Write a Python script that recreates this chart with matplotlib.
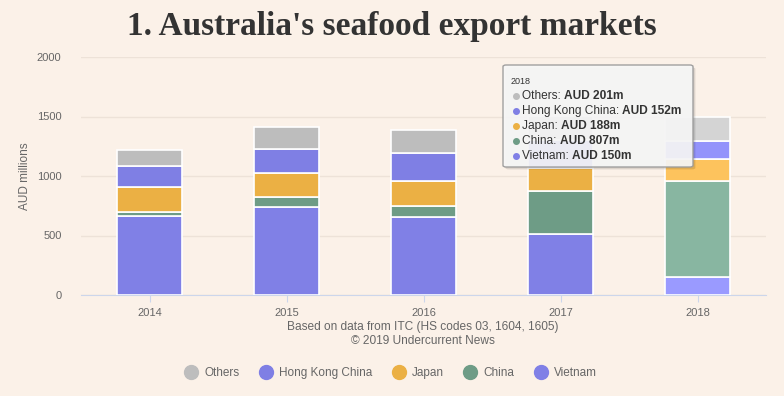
import matplotlib
matplotlib.use("Agg")
import matplotlib.pyplot as plt
import numpy as np
from matplotlib.lines import Line2D
from matplotlib.patches import FancyBboxPatch

# data (AUD millions)
years = ["2014", "2015", "2016", "2017", "2018"]
series = ["Others", "Hong Kong China", "Japan", "China", "Vietnam"]
vietnam = [666, 737, 658, 510, 150]
china = [34, 89, 92, 361, 807]
japan = [205, 196, 210, 200, 188]
hong_kong = [182, 207, 236, 230, 152]
others = [134, 185, 191, 200, 201]

colors = {"Others": "#bdbdbd", "Hong Kong China": "#7f7fe4",
          "Japan": "#ebb044", "China": "#6e9c86", "Vietnam": "#8080e6"}
# hovered column (2018) is drawn brighter
hover_colors = {"Others": "#d4d4d4", "Hong Kong China": "#9393fb",
                "Japan": "#fdc35d", "China": "#88b6a1", "Vietnam": "#9a9aff"}
hover_idx = 4

bg = "#fbf1e8"
txt = "#666666"

fig = plt.figure(figsize=(7.84, 3.96), dpi=100, facecolor=bg)
ax = fig.add_axes([81 / 784, 1 - 295 / 396, 685 / 784, 238 / 396])
ax.set_facecolor(bg)

x = np.arange(len(years))
stack = [("Vietnam", vietnam), ("China", china), ("Japan", japan),
         ("Hong Kong China", hong_kong), ("Others", others)]
bottom = np.zeros(len(years))
for name, vals in stack:
    cols = [hover_colors[name] if i == hover_idx else colors[name] for i in range(len(years))]
    ax.bar(x, vals, 0.475, bottom=bottom, color=cols, edgecolor="white",
           linewidth=1.2, zorder=3)
    bottom += np.array(vals)

ax.set_xlim(-0.5, len(years) - 0.5)
ax.set_ylim(0, 2000)
ax.set_yticks([0, 500, 1000, 1500, 2000])
ax.set_xticks(x)
ax.set_xticklabels(years)
ax.grid(axis="y", color="#ede2d8", linewidth=1, zorder=0)
for s in ["top", "right", "left"]:
    ax.spines[s].set_visible(False)
ax.spines["bottom"].set_color("#ccd6eb")
ax.tick_params(axis="y", length=0, labelsize=8, labelcolor=txt, pad=14)
ax.tick_params(axis="x", length=5, color="#ccd6eb", labelsize=8, labelcolor=txt, pad=4)
ax.set_ylabel("AUD millions", fontsize=8.5, color=txt, labelpad=4)
for lab in ax.get_xticklabels() + ax.get_yticklabels():
    lab.set_family("Liberation Sans")
ax.yaxis.label.set_family("Liberation Sans")

fig.text(0.5, 1 - 27 / 396, "1. Australia's seafood export markets", ha="center", va="center",
         fontsize=24, fontweight="bold", family="Liberation Serif", color="#333333")

fig.text(423 / 784, 1 - 327 / 396, "Based on data from ITC (HS codes 03, 1604, 1605)",
         ha="center", va="center", fontsize=8.6, color=txt, family="Liberation Sans")
fig.text(423 / 784, 1 - 341 / 396, "\u00a9 2019 Undercurrent News",
         ha="center", va="center", fontsize=8.6, color=txt, family="Liberation Sans")

handles = [Line2D([], [], marker="o", ls="", markersize=10, color=colors[s]) for s in series]
leg = fig.legend(handles, series, ncol=5, loc="center", bbox_to_anchor=(388 / 784, 1 - 373 / 396),
                 frameon=False, handletextpad=0.1, columnspacing=1.25,
                 prop={"family": "Liberation Sans", "size": 8.5})
for t in leg.get_texts():
    t.set_color(txt)

# tooltip for the hovered 2018 column
bx0, by0, bx1, by1 = 503, 65, 693, 167
fig.patches.append(FancyBboxPatch((bx0 / 784 + 0.003, 1 - by1 / 396 - 0.006),
                                  (bx1 - bx0) / 784, (by1 - by0) / 396,
                                  boxstyle="round,pad=0,rounding_size=0.004",
                                  transform=fig.transFigure, facecolor="#000000",
                                  alpha=0.12, edgecolor="none", zorder=10))
fig.patches.append(FancyBboxPatch((bx0 / 784, 1 - by1 / 396), (bx1 - bx0) / 784,
                                  (by1 - by0) / 396,
                                  boxstyle="round,pad=0,rounding_size=0.004",
                                  transform=fig.transFigure, facecolor="#f7f7f7",
                                  alpha=0.92, edgecolor="#999999", linewidth=1, zorder=11))
fig.text(511 / 784, 1 - 81 / 396, years[hover_idx], fontsize=6.5, color="#333333",
         va="center", family="Liberation Sans", zorder=12)

renderer = fig.canvas.get_renderer()
tip_vals = {"Others": others, "Hong Kong China": hong_kong, "Japan": japan,
            "China": china, "Vietnam": vietnam}
ys = [96, 111, 126, 141, 156]
for s, yy in zip(series, ys):
    fy = 1 - yy / 396
    fig.add_artist(Line2D([516 / 784], [fy], marker="o", markersize=4, ls="",
                          color=colors[s], transform=fig.transFigure, zorder=12))
    t1 = fig.text(522 / 784, fy, s + ": ", fontsize=8.6, color="#333333", va="center",
                  family="Liberation Sans", zorder=12)
    bb = t1.get_window_extent(renderer)
    fig.text(bb.x1 / fig.bbox.width, fy, "AUD %dm" % tip_vals[s][hover_idx], fontsize=8.6,
             fontweight="bold", color="#333333", va="center",
             family="Liberation Sans", zorder=12)

fig.savefig("out.png", dpi=100, facecolor=bg)
